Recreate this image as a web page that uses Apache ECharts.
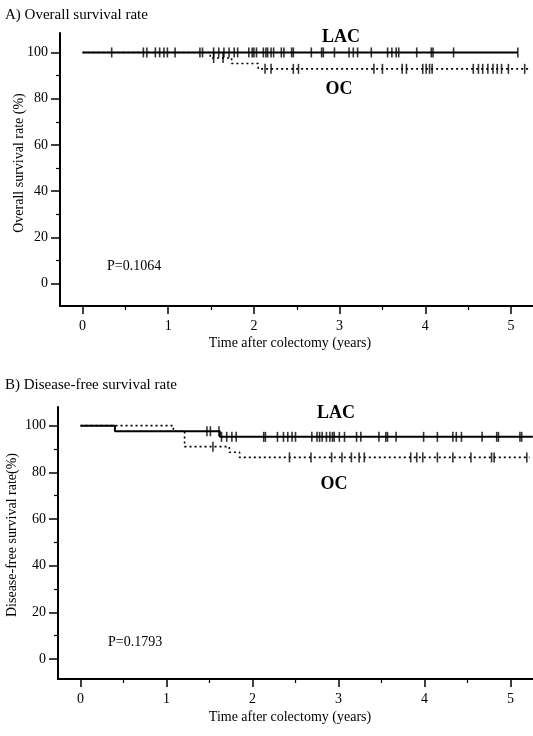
<!DOCTYPE html>
<html>
<head>
<meta charset="utf-8">
<script src="https://cdn.jsdelivr.net/npm/echarts@6/dist/echarts.min.js"></script>
<style>
  html, body { margin: 0; padding: 0; background: #fff; }
  #myCharts { width: 533px; height: 736px; }
</style>
</head>
<body>
<div id="myCharts"></div>
<script>
// A) overall survival: step times (years) and survival (%)
let osLacTimes = [0, 5.08];
let osLacSurv = [100, 100];
let osOcTimes = [0, 1.49, 1.74, 2.05, 5.22];
let osOcSurv = [100, 97.6, 95.2, 92.9, 92.9];
// censored cases (years)
let osLacCensor = [0.34, 0.71, 0.75, 0.85, 0.90, 0.95, 0.99, 1.08, 1.37, 1.40, 1.53, 1.59, 1.65,
  1.71, 1.77, 1.81, 1.94, 1.98, 2.00, 2.03, 2.11, 2.14, 2.16, 2.20, 2.23, 2.32, 2.35, 2.44, 2.46,
  2.67, 2.79, 2.81, 2.94, 3.11, 3.16, 3.21, 3.37, 3.56, 3.61, 3.66, 3.69, 3.90, 4.07, 4.09, 4.33, 5.08];
let osOcCensor = [1.53, 1.64, 2.13, 2.20, 2.46, 2.52, 3.40, 3.50, 3.73, 3.78, 3.97, 4.01, 4.05, 4.08,
  4.56, 4.62, 4.67, 4.73, 4.79, 4.84, 4.89, 4.97, 5.16];

// B) disease-free survival
let dfsLacTimes = [0, 0.40, 1.62, 5.26];
let dfsLacSurv = [100, 97.6, 95.2, 95.2];
let dfsOcTimes = [0, 1.08, 1.21, 1.73, 1.85, 5.22];
let dfsOcSurv = [100, 97.6, 91.0, 88.6, 86.4, 86.4];
let dfsLacCensor = [1.47, 1.51, 1.61, 1.64, 1.70, 1.76, 1.81, 2.13, 2.15, 2.29, 2.36, 2.41, 2.46, 2.50,
  2.69, 2.75, 2.78, 2.81, 2.86, 2.90, 2.93, 2.95, 3.01, 3.07, 3.21, 3.26, 3.47, 3.55, 3.57, 3.67,
  3.99, 4.15, 4.33, 4.37, 4.43, 4.67, 4.84, 4.86, 5.11, 5.13];
let dfsOcCensor = [1.54, 2.43, 2.68, 2.92, 3.04, 3.15, 3.24, 3.30, 3.84, 3.91, 3.98, 4.15, 4.33,
  4.54, 4.78, 4.81, 5.19];

let xMajor = [0, 1, 2, 3, 4, 5];
let xMinor = [0.5, 1.5, 2.5, 3.5, 4.5];
let yMajor = [0, 20, 40, 60, 80, 100];
let yMinor = [10, 30, 50, 70, 90];

const serif = "Liberation Serif";

function steps(times, surv) {
  return times.map((t, i) => [t, surv[i]]);
}
// height of the curve at a censored time
function marks(censor, times, surv) {
  return censor.map((c) => {
    let v = surv[0];
    for (let i = 0; i < times.length; i++) {
      if (times[i] <= c) v = surv[i];
    }
    return [c, v];
  });
}

function xAxes(grid, min, max) {
  return [
    {
      gridIndex: grid, type: "value", min: min, max: max, position: "bottom",
      axisLine: { onZero: false, lineStyle: { color: "#000", width: 2 } },
      axisTick: { customValues: xMajor, length: 8, lineStyle: { color: "#000", width: 1.5 } },
      axisLabel: { customValues: xMajor, color: "#000", fontFamily: serif, fontSize: 14, margin: 13 },
      splitLine: { show: false },
    },
    {
      gridIndex: grid, type: "value", min: min, max: max, position: "bottom",
      axisLine: { show: false, onZero: false },
      axisTick: { customValues: xMinor, length: 4, lineStyle: { color: "#000", width: 1.2 } },
      axisLabel: { show: false },
      splitLine: { show: false },
    },
  ];
}
function yAxes(grid, min, max) {
  return [
    {
      gridIndex: grid, type: "value", min: min, max: max, position: "left",
      axisLine: { onZero: false, lineStyle: { color: "#000", width: 2 } },
      axisTick: { customValues: yMajor, length: 9, lineStyle: { color: "#000", width: 1.5 } },
      axisLabel: { customValues: yMajor, color: "#000", fontFamily: serif, fontSize: 14, margin: 12 },
      splitLine: { show: false },
    },
    {
      gridIndex: grid, type: "value", min: min, max: max, position: "left",
      axisLine: { show: false, onZero: false },
      axisTick: { customValues: yMinor, length: 4, lineStyle: { color: "#000", width: 1.2 } },
      axisLabel: { show: false },
      splitLine: { show: false },
    },
  ];
}

function curves(xi, yi, lacT, lacS, ocT, ocS, lacC, ocC) {
  return [
    {
      type: "line", xAxisIndex: xi, yAxisIndex: yi, step: "end", showSymbol: false,
      lineStyle: { color: "#000", width: 2, type: "solid" },
      data: steps(lacT, lacS), z: 3,
    },
    {
      type: "line", xAxisIndex: xi, yAxisIndex: yi, step: "end", showSymbol: false,
      lineStyle: { color: "#000", width: 1.6, type: [2, 3] },
      data: steps(ocT, ocS), z: 2,
    },
    {
      type: "scatter", xAxisIndex: xi, yAxisIndex: yi, symbol: "rect", symbolSize: [1.6, 10],
      itemStyle: { color: "#000" }, data: marks(lacC, lacT, lacS), z: 4,
    },
    {
      type: "scatter", xAxisIndex: xi, yAxisIndex: yi, symbol: "rect", symbolSize: [1.6, 10],
      itemStyle: { color: "#000" }, data: marks(ocC, ocT, ocS), z: 4,
    },
  ];
}

function txt(x, y, text, size, align) {
  return {
    type: "text", x: x, y: y,
    style: { text: text, fill: "#000", font: size + "px '" + serif + "'", textAlign: align || "left", textVerticalAlign: "middle" },
  };
}
function bold(x, y, text) {
  return {
    type: "text", x: x, y: y,
    style: { text: text, fill: "#000", font: "bold 18px '" + serif + "'", textAlign: "center", textVerticalAlign: "middle" },
  };
}
function vert(x, y, text) {
  return {
    type: "text", x: x, y: y, rotation: Math.PI / 2,
    style: { text: text, fill: "#000", font: "14px '" + serif + "'", textAlign: "center", textVerticalAlign: "middle" },
  };
}

let option = {
  animation: false,
  backgroundColor: "#fff",
  grid: [
    { left: 60, right: 0, top: 33, height: 273 },
    { left: 58, right: 0, top: 407, height: 272 },
  ],
  xAxis: [].concat(xAxes(0, -0.263, 5.257), xAxes(1, -0.262, 5.262)),
  yAxis: [].concat(yAxes(0, -9.6, 108.4), yAxes(1, -8.6, 108)),
  series: [].concat(
    curves(0, 0, osLacTimes, osLacSurv, osOcTimes, osOcSurv, osLacCensor, osOcCensor),
    curves(2, 2, dfsLacTimes, dfsLacSurv, dfsOcTimes, dfsOcSurv, dfsLacCensor, dfsOcCensor)
  ),
  graphic: [
    txt(5, 15, "A) Overall survival rate", 15),
    txt(5, 385, "B) Disease-free survival rate", 15),
    txt(107, 266, "P=0.1064", 14),
    txt(108, 642, "P=0.1793", 14),
    bold(341, 37, "LAC"),
    bold(339, 89, "OC"),
    bold(336, 413, "LAC"),
    bold(334, 484, "OC"),
    vert(19, 163, "Overall survival rate (%)"),
    vert(12, 535, "Disease-free survival rate(%)"),
    txt(290, 343, "Time after colectomy (years)", 14, "center"),
    txt(290, 717, "Time after colectomy (years)", 14, "center"),
  ],
};

let myChart = echarts.init(document.getElementById("myCharts"));
myChart.setOption(option);
</script>
</body>
</html>
